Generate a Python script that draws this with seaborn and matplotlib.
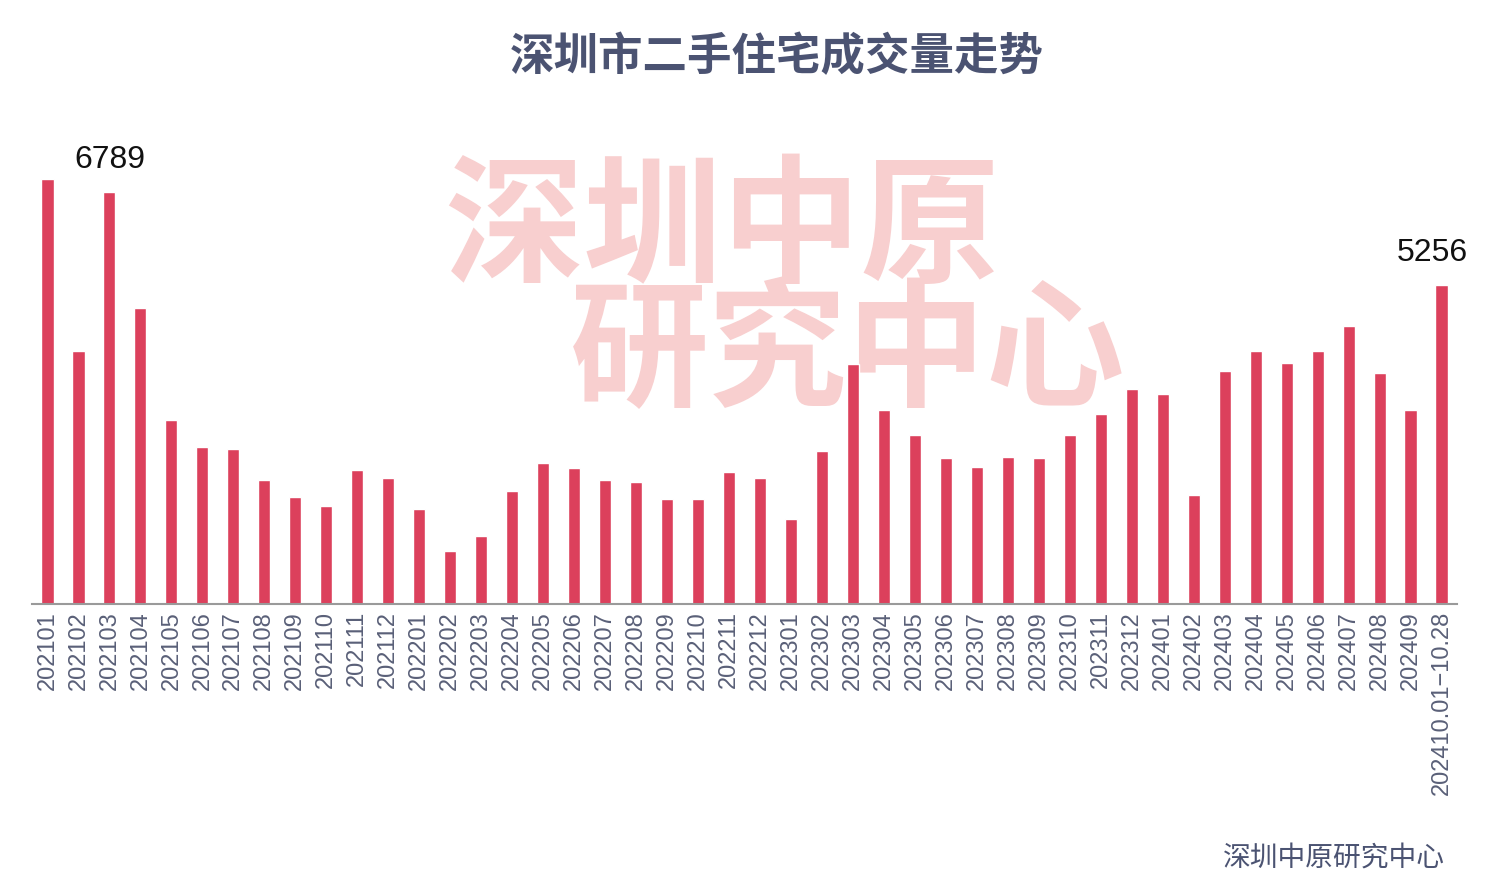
import matplotlib
matplotlib.use("Agg")
import matplotlib.pyplot as plt
import seaborn as sns
import pandas as pd

months = ["202101", "202102", "202103", "202104", "202105", "202106", "202107", "202108",
          "202109", "202110", "202111", "202112", "202201", "202202", "202203", "202204",
          "202205", "202206", "202207", "202208", "202209", "202210", "202211", "202212",
          "202301", "202302", "202303", "202304", "202305", "202306", "202307", "202308",
          "202309", "202310", "202311", "202312", "202401", "202402", "202403", "202404",
          "202405", "202406", "202407", "202408", "202409", "202410.01\u221210.28"]
volumes = [7004, 4169, 6789, 4878, 3032, 2587, 2554, 2043,
           1763, 1615, 2208, 2076, 1566, 873, 1121, 1862,
           2324, 2241, 2043, 2011, 1730, 1730, 2175, 2076,
           1401, 2521, 3955, 3197, 2785, 2406, 2258, 2423,
           2406, 2785, 3131, 3543, 3461, 1796, 3840, 4169,
           3972, 4169, 4581, 3807, 3197, 5256]
label_idx = [2, 45]

title = "深圳市二手住宅成交量走势"
source = "深圳中原研究中心"
watermark = ["深圳中原", "研究中心"]

sns.set_theme(style="white")
plt.rcParams['font.family'] = ['Liberation Sans', 'Noto Sans CJK SC', 'DejaVu Sans']

df = pd.DataFrame({"month": months, "volume": volumes})

fig = plt.figure(figsize=(15.02, 8.96), dpi=100)
ax = fig.add_axes([32/1502, 1 - 604/896, (1457-32)/1502, (604-110)/896])

# watermark (behind bars)
wm_color = "#f8cfcf"
fig.text(722/1502, 1 - 232/896, watermark[0], fontsize=100, fontweight="bold",
         color=wm_color, ha="center", va="center", family=["Noto Sans CJK SC"], zorder=0)
fig.text(848/1502, 1 - 356/896, watermark[1], fontsize=100, fontweight="bold",
         color=wm_color, ha="center", va="center", family=["Noto Sans CJK SC"], zorder=0)
ax.set_facecolor("none")
ax.set_zorder(2)

sns.barplot(data=df, x="month", y="volume", color="#dc405c", width=0.39,
            saturation=1, ax=ax)

ax.set_xlim(-0.5, len(months) - 0.5)
ax.set_ylim(0, 494 * 16.477)
ax.set_xlabel("")
ax.set_ylabel("")
ax.set_yticks([])
for s in ["top", "right", "left"]:
    ax.spines[s].set_visible(False)
ax.spines["bottom"].set_color("#9a9a9a")
ax.spines["bottom"].set_linewidth(1.5)
ax.tick_params(axis="x", length=0, pad=5, labelsize=17, labelcolor="#5a6078")
plt.setp(ax.get_xticklabels(), rotation=90, va="top", ha="center")

label_dx = {2: 0, 45: -6.5}
for i in label_idx:
    ax.annotate(f"{volumes[i]}", (i, volumes[i]), xytext=(label_dx[i], 12), textcoords="offset points",
                ha="center", va="bottom", fontsize=23, color="#111111")

fig.text(777/1502, 1 - 57/896, title, fontsize=32, fontweight="bold", color="#4b5372",
         ha="center", va="center", family=["Noto Sans CJK SC", "DejaVu Sans"])
fig.text(1445/1502, 1 - 858/896, source, fontsize=20, color="#4b5372",
         ha="right", va="center", family=["Noto Sans CJK SC", "DejaVu Sans"])

fig.savefig("out.png", dpi=100)
